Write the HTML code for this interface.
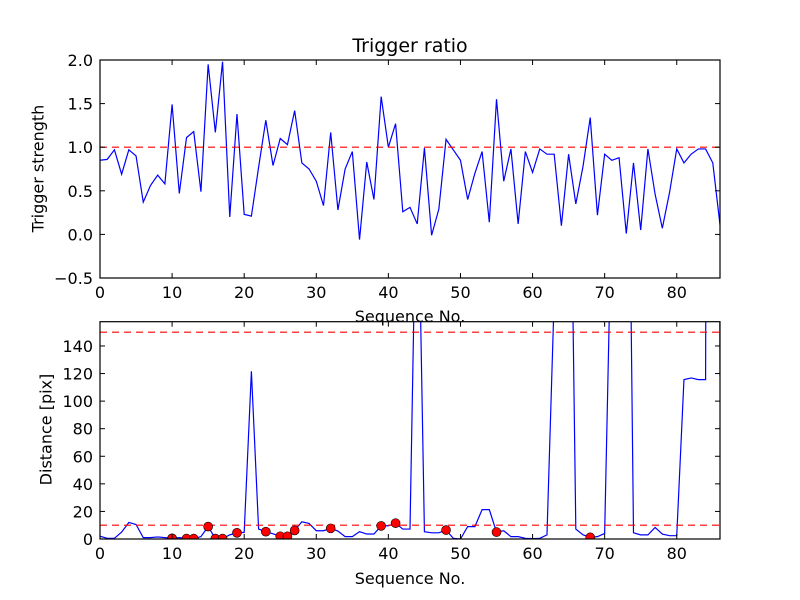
<!DOCTYPE html>
<html><head><meta charset="utf-8"><style>
html,body{margin:0;padding:0;background:#fff;}
svg{display:block;font-family:"DejaVu Sans","Liberation Sans",sans-serif;}
</style></head><body>
<svg id="fig" width="800" height="600" viewBox="0 0 800 600"></svg>
<script>
const seqIdx = Array.from({length:87},(_,i)=>i);
const ratioValues = [0.85,0.86,0.97,0.69,0.97,0.90,0.37,0.56,0.68,0.58,1.49,0.47,1.11,1.18,0.49,1.95,1.17,1.98,0.20,1.38,0.23,0.21,0.77,1.31,0.79,1.10,1.03,1.42,0.82,0.75,0.61,0.33,1.17,0.28,0.75,0.95,-0.06,0.83,0.40,1.58,1.00,1.27,0.26,0.31,0.12,0.99,-0.01,0.29,1.09,0.97,0.85,0.40,0.70,0.95,0.14,1.55,0.61,0.98,0.12,0.95,0.71,0.98,0.92,0.92,0.10,0.92,0.35,0.78,1.34,0.22,0.92,0.85,0.88,0.01,0.82,0.05,0.98,0.46,0.07,0.48,0.98,0.82,0.92,0.98,0.98,0.82,0.11];
const distValues = [2,0.5,0.5,5,12,10.5,1,1,1.5,1,0.5,1,0.3,0.3,1.7,9,0.3,0.3,3,4.5,4.8,121.6,7.2,5.3,3.8,2,2,6.2,12.5,11.3,6,6,7.7,5.8,1.7,1.7,5.3,3.6,3.6,9.5,9.6,11.5,7.2,7.2,300,5.3,4.5,4.5,6.5,0.5,0,9,9,21.3,21.3,5,6,1.7,1.7,0.5,0.3,0.5,3,175,400,400,7.2,3,1.2,1.7,4,250,400,480,4.5,3,3,8.4,3.6,2.4,2.4,115.6,116.8,115.6,115.6,2000,118];
const markerIdx = [10,12,13,15,16,17,19,23,25,26,27,32,39,41,48,55,68];
const topYTicks = [-0.5,0,0.5,1.0,1.5,2.0];
const topYLabels = ["\u22120.5","0.0","0.5","1.0","1.5","2.0"];
const botYTicks = [0,20,40,60,80,100,120,140];
const xTicks = [0,10,20,30,40,50,60,70,80];
const ratioThreshold = 1.0;
const distThresholds = [10,150];

const NS="http://www.w3.org/2000/svg";
const svg=document.getElementById('fig');
function mk(tag,attrs,parent){const e=document.createElementNS(NS,tag);for(const k in attrs)e.setAttribute(k,attrs[k]);(parent||svg).appendChild(e);return e;}
const X0=100,X1=720,XMAX=86;
const sx=v=>X0+(X1-X0)*v/XMAX;
const axT={y0:60,y1:278,min:-0.5,max:2.0};
const axB={y0:321.7,y1:539,min:0,max:157.6};
const syT=v=>axT.y1-(v-axT.min)/(axT.max-axT.min)*(axT.y1-axT.y0);
const syB=v=>axB.y1-(v-axB.min)/(axB.max-axB.min)*(axB.y1-axB.y0);

mk('defs',{}).innerHTML='<clipPath id="cT"><rect x="100" y="60" width="620" height="218"/></clipPath><clipPath id="cB"><rect x="100" y="321.7" width="620" height="217.3"/></clipPath>';

function axes(ax,sy,yt,ylabels,name){
  const g=mk('g',{});
  
  
  xTicks.forEach(t=>{
    const x=sx(t);
    mk('line',{x1:x,x2:x,y1:ax.y1,y2:ax.y1-5,stroke:'#000','stroke-width':1},g);
    mk('line',{x1:x,x2:x,y1:ax.y0,y2:ax.y0+5,stroke:'#000','stroke-width':1},g);
    const tl=mk('text',{x:x,y:ax.y1+20,'text-anchor':'middle','font-size':16},g);
    tl.textContent=t;
    
    
  });
  yt.forEach((t,i)=>{
    const y=sy(t);
    mk('line',{x1:X0,x2:X0+5,y1:y,y2:y,stroke:'#000','stroke-width':1},g);
    mk('line',{x1:X1,x2:X1-5,y1:y,y2:y,stroke:'#000','stroke-width':1},g);
    const tl=mk('text',{x:X0-7,y:y+6,'text-anchor':'end','font-size':16},g);
    tl.textContent=ylabels?ylabels[i]:t;
    
    
  });
  return g;
}

const tl1=mk('polyline',{points:seqIdx.map(i=>sx(i)+','+syT(ratioValues[i])).join(' '),fill:'none',stroke:'#0000ff','stroke-width':1.2,'clip-path':'url(#cT)'});


const th1=mk('line',{x1:X0,x2:X1,y1:syT(ratioThreshold),y2:syT(ratioThreshold),stroke:'#ff0000','stroke-width':1.2,'stroke-dasharray':'7,5'});


mk('rect',{x:X0,y:axT.y0,width:X1-X0,height:axT.y1-axT.y0,fill:'none',stroke:'#000','stroke-width':1.2});
axes(axT,syT,topYTicks,topYLabels,'top');

const bl=mk('polyline',{points:seqIdx.map(i=>sx(i)+','+syB(distValues[i])).join(' '),fill:'none',stroke:'#0000ff','stroke-width':1.2,'clip-path':'url(#cB)'});


distThresholds.forEach(v=>{
  const l=mk('line',{x1:X0,x2:X1,y1:syB(v),y2:syB(v),stroke:'#ff0000','stroke-width':1.2,'stroke-dasharray':'7,5'});
  
  
});
const mg=mk('g',{'clip-path':'url(#cB)'});
markerIdx.forEach(i=>{
  const c=mk('circle',{cx:sx(i),cy:syB(distValues[i]),r:4.5,fill:'#ff0000',stroke:'#000','stroke-width':0.6},mg);
  
  
});
mk('rect',{x:X0,y:axB.y0,width:X1-X0,height:axB.y1-axB.y0,fill:'none',stroke:'#000','stroke-width':1.2});
axes(axB,syB,botYTicks,null,'bottom');
</script>
<div style="position:absolute;left:0;top:0;width:800px;height:600px;pointer-events:none;font-family:'DejaVu Sans','Liberation Sans',sans-serif;">
  <div style="position:absolute;left:310px;width:200px;top:35px;text-align:center;font-size:19px;">Trigger ratio</div>
  <div style="position:absolute;left:310px;width:200px;top:307px;text-align:center;font-size:16px;">Sequence No.</div>
  <div style="position:absolute;left:310px;width:200px;top:569px;text-align:center;font-size:16px;">Sequence No.</div>
  <div style="position:absolute;left:-62px;width:200px;top:159px;text-align:center;font-size:16px;transform:rotate(-90deg);">Trigger strength</div>
  <div style="position:absolute;left:-54px;width:200px;top:420px;text-align:center;font-size:16px;transform:rotate(-90deg);">Distance [pix]</div>
</div>
</body></html>
